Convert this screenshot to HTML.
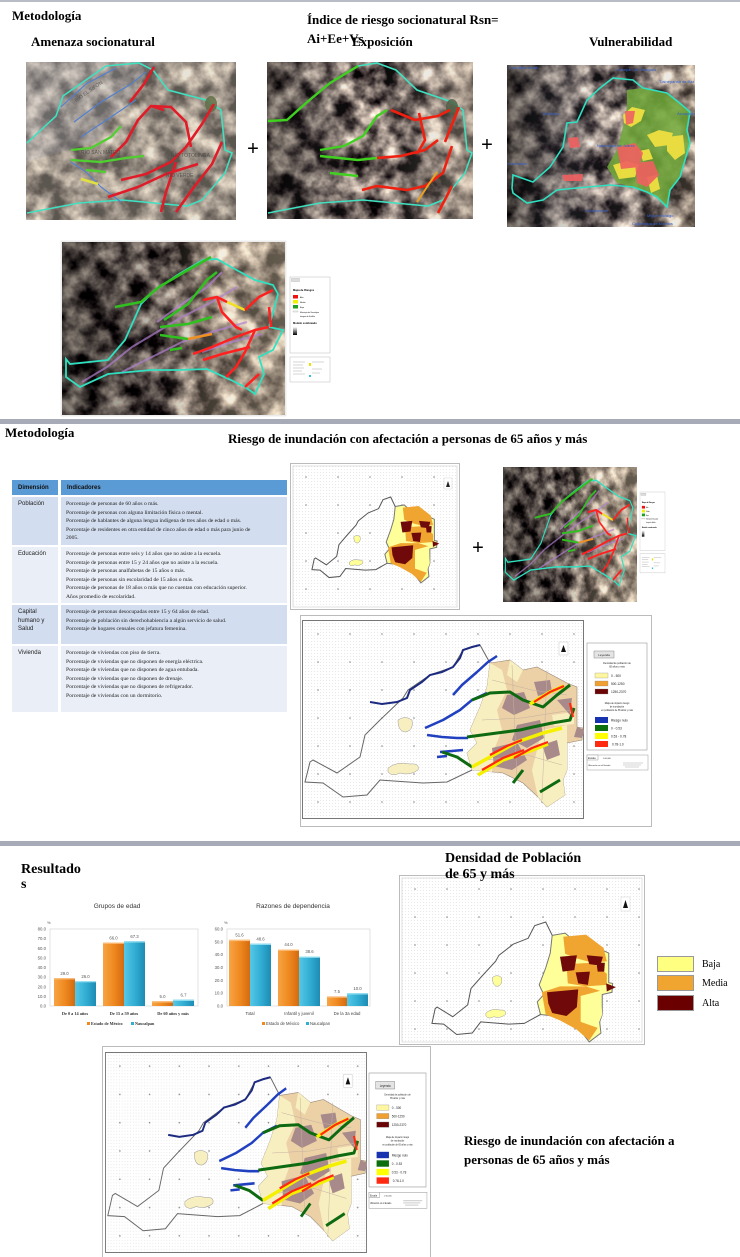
<!DOCTYPE html>
<html><head><meta charset="utf-8">
<style>
body{margin:0;background:#fff;}
#w{position:relative;width:740px;height:1257px;overflow:hidden;background:#fff;}
.c{position:absolute;box-sizing:border-box;white-space:nowrap;}
.h{background:#5b9bd5;font-family:"Liberation Sans",sans-serif;font-weight:bold;font-size:6px;color:#111;padding:5px 0 0 6px;}
.d{font-family:"Liberation Sans",sans-serif;font-size:6px;color:#222;padding:3px 0 0 6px;line-height:8.6px;}
.i{font-family:"Liberation Serif",serif;font-size:5.6px;color:#222;padding:3px 0 0 5px;line-height:8.6px;}
.dk{background:#d2ddef;}
.lt{background:#e9eef7;}
</style></head>
<body><div id="w">
<svg width="740" height="1257" viewBox="0 0 740 1257" xmlns="http://www.w3.org/2000/svg" style="position:absolute;left:0;top:0">
<defs>
 <filter id="sat" x="0" y="0" width="100%" height="100%" color-interpolation-filters="sRGB">
  <feTurbulence type="fractalNoise" baseFrequency="0.045" numOctaves="4" seed="7"/>
  <feColorMatrix type="matrix" values="2.3 0 0 0 -0.7  2.2 0 0 0 -0.7  2.0 0 0 0 -0.62  0 0 0 0 1"/>
 </filter>
 <pattern id="dots" width="32" height="28" patternUnits="userSpaceOnUse"><circle cx="16" cy="14" r="0.8" fill="#888"/></pattern>
 <pattern id="fine" width="3" height="3" patternUnits="userSpaceOnUse"><rect width="3" height="3" fill="#fff"/><rect width="1" height="1" fill="#e8e8e8"/></pattern>
 <linearGradient id="g2" x1="0" x2="1"><stop offset="0" stop-color="#000" stop-opacity=".45"/><stop offset=".5" stop-color="#808080" stop-opacity="0"/><stop offset="1" stop-color="#d8c8b0" stop-opacity=".45"/></linearGradient>
 <linearGradient id="g3" x1="0" x2="1"><stop offset="0" stop-color="#000" stop-opacity=".55"/><stop offset=".5" stop-color="#9098a8" stop-opacity=".1"/><stop offset="1" stop-color="#c0b090" stop-opacity=".3"/></linearGradient>
 <linearGradient id="g4" x1="0" x2="1"><stop offset="0" stop-color="#000" stop-opacity=".5"/><stop offset=".45" stop-color="#000" stop-opacity=".25"/><stop offset=".65" stop-color="#d8c8a8" stop-opacity=".3"/><stop offset="1" stop-color="#e0d0b0" stop-opacity=".45"/></linearGradient>
 <linearGradient id="ob" x1="0" x2="1"><stop offset="0" stop-color="#f7a445"/><stop offset=".5" stop-color="#f08a20"/><stop offset="1" stop-color="#d46a10"/></linearGradient>
 <linearGradient id="bb" x1="0" x2="1"><stop offset="0" stop-color="#55c8e6"/><stop offset=".5" stop-color="#33aed4"/><stop offset="1" stop-color="#1d8cb4"/></linearGradient>
 <linearGradient id="bw" x1="0" x2="0" y1="0" y2="1"><stop offset="0" stop-color="#fff"/><stop offset="1" stop-color="#000"/></linearGradient>

 <g id="sat4">
  <rect width="223" height="173" filter="url(#sat)"/>
  <rect width="223" height="173" fill="url(#g4)"/>
  <g fill="none" stroke="#b080d0" stroke-width="2" opacity=".7">
   <path d="M20,140 L45,125 L70,105 L95,90 L120,75 L150,60 L175,45"/>
   <path d="M60,130 L90,115 L120,100 L150,90 L185,80"/>
   <path d="M95,80 L120,62 L145,45 L160,30"/>
   <path d="M140,110 L170,100 L200,92"/>
  </g>
  <path d="M4,117 L8,122 L46,118 L63,98 L79,62 L93,48 L117,32 L141,18 L155,17 L169,25 L193,38 L211,43 L216,52 L207,85 L221,88 L211,108 L197,115 L202,132 L193,152 L183,145 L169,138 L145,127 L117,128 L89,128 L46,132 L18,145 L4,135 Z" fill="none" stroke="#30e0c0" stroke-width="1.8"/>
  <g fill="none" stroke="#30c020" stroke-width="2.5" stroke-linejoin="round">
   <path d="M53,65 L79,60 L97,45 L126,28 L149,15"/>
   <path d="M102,78 L126,62 L145,38 L155,30"/>
   <path d="M98,85 L126,82 L150,75"/>
   <path d="M98,93 L126,97"/>
   <path d="M108,108 L120,106"/>
  </g>
  <path d="M126,97 L150,92" stroke="#f09020" stroke-width="2.5" fill="none"/>
  <path d="M165,60 L183,68" stroke="#f0e020" stroke-width="2.5" fill="none"/>
  <g fill="none" stroke="#ff2020" stroke-width="2.5" stroke-linejoin="round">
   <path d="M141,58 L155,55 L165,60"/>
   <path d="M183,68 L197,55 L211,48"/>
   <path d="M131,112 L150,105 L174,95 L193,88 L207,85"/>
   <path d="M141,118 L160,112 L188,105"/>
   <path d="M164,135 L174,125 L183,110 L193,88"/>
   <path d="M183,145 L197,132"/>
   <path d="M155,55 L160,70 L174,85 L180,88"/>
   <path d="M207,65 L209,85"/>
  </g>
 </g>

 <g id="mleg">
  <rect x="0" y="0" width="40" height="76" fill="#fff" stroke="#bbb" stroke-width=".5"/>
  <rect x="1.5" y="1.5" width="8" height="3" fill="#ddd" stroke="#999" stroke-width=".3"/>
  <text x="3" y="14" font-family="Liberation Sans, sans-serif" font-size="2.6" font-weight="bold">Mapa de Riesgos</text>
  <rect x="3" y="18" width="5" height="3.5" fill="#f01010"/><rect x="3" y="23" width="5" height="3.5" fill="#f0f000"/><rect x="3" y="28" width="5" height="3.5" fill="#20a020"/>
  <text x="10" y="21" font-family="Liberation Sans, sans-serif" font-size="2">Alto</text>
  <text x="10" y="26" font-family="Liberation Sans, sans-serif" font-size="2">Medio</text>
  <text x="10" y="31" font-family="Liberation Sans, sans-serif" font-size="2">Bajo</text>
  <rect x="3" y="34" width="5" height="1" fill="#fff" stroke="#999" stroke-width=".3"/>
  <text x="10" y="36" font-family="Liberation Sans, sans-serif" font-size="1.8">Municipio de Naucalpan</text>
  <text x="10" y="40" font-family="Liberation Sans, sans-serif" font-size="1.8">Imagen de Satélite</text>
  <text x="3" y="47" font-family="Liberation Sans, sans-serif" font-size="2.6" font-weight="bold">Modelo sombreado</text>
  <rect x="3" y="50" width="4" height="8" fill="url(#bw)"/>
  <rect x="0" y="80" width="40" height="25" fill="#fff" stroke="#bbb" stroke-width=".5"/>
  <g stroke="#aaa" stroke-width=".6"><path d="M3,85 H15 M3,88 H13 M3,91 H14 M3,94 H12 M3,97 H15 M22,85 H34 M22,92 H32 M22,96 H30"/></g>
  <rect x="19" y="86" width="2" height="3" fill="#f0e000"/><rect x="19" y="98" width="2" height="2" fill="#30c0e0"/>
 </g>

 <g id="riskmap">
  <path d="M188,43 L208,40 L221,50 L235,47 L265,63 L275,67 L275,107 L281,108 L280,120 L265,123 L265,150 L261,160 L263,175 L245,187 L236,177 L221,163 L201,153 L170,150 L165,133 L175,123 L168,110 L178,87 L185,67 Z" fill="#ecd0a6" stroke="#9a8a7a" stroke-width=".6"/>
  <g fill="#f8efc0">
   <path d="M185,67 L178,87 L168,110 L175,123 L165,133 L170,150 L190,152 L192,130 L200,110 L195,90 L205,70 L200,50 L188,43 Z"/>
   <path d="M240,110 L265,105 L265,150 L261,160 L263,175 L245,187 L236,177 L230,150 Z"/>
   <path d="M208,40 L221,50 L215,62 L205,55 Z"/>
   <path d="M250,95 L272,92 L272,104 L252,106 Z"/>
  </g>
  <g fill="#a88a8a">
   <path d="M205,75 L222,72 L228,88 L212,95 L200,88 Z"/>
   <path d="M232,62 L248,60 L250,72 L236,76 Z"/>
   <path d="M215,105 L238,100 L242,118 L225,128 L210,120 Z"/>
   <path d="M190,128 L215,122 L225,140 L210,150 L192,146 Z"/>
   <path d="M240,125 L255,120 L258,135 L245,140 Z"/>
   <path d="M255,80 L270,78 L268,95 Z"/>
   <path d="M275,107 L283,110 L280,118 L272,117 Z"/>
  </g>
  <g fill="none" stroke="#c2b2a0" stroke-width=".5">
   <path d="M190,60 L230,70 L265,75 M180,100 L220,98 L270,90 M185,140 L225,135 L260,145 M210,45 L215,160 M245,50 L240,180"/>
  </g>
  <path d="M188,43 L178,25 L161,30 L151,47 L128,55 L106,70 L101,78 L78,100 L63,115 L58,137 L35,153 L11,140 L8,142 L3,162 L21,163 L41,177 L65,175 L78,160 L121,163 L145,162 L170,150" fill="none" stroke="#666" stroke-width="1"/>
  <path d="M96,100 Q103,95 110,100 Q112,110 104,112 Q96,112 96,100 Z" fill="#f8efc0" stroke="#999" stroke-width=".5"/>
  <path d="M86,148 Q95,141 108,144 Q118,143 116,150 Q108,156 98,153 Q90,157 86,152 Z" fill="#f8efc0" stroke="#999" stroke-width=".5"/>
  <path d="M68,82 L80,84 L95,82 L105,78 L108,70 L120,62 L128,55 L140,52 L151,47 L158,38 L161,30 L170,27 L178,25" fill="none" stroke="#1c2a80" stroke-width="2"/>
  <g fill="none" stroke="#2040c0" stroke-width="2.5" stroke-linejoin="round">
   <path d="M151,75 L160,65 L175,52 L186,42 L195,36"/>
   <path d="M123,108 L141,100 L158,90 L170,80 L185,73"/>
   <path d="M125,115 L140,117 L155,118 L166,118"/>
   <path d="M138,132 L150,131 L161,130"/>
   <path d="M135,137 L145,136"/>
  </g>
  <g fill="none" stroke="#0e6a10" stroke-width="3" stroke-linejoin="round">
   <path d="M170,80 L188,73 L208,72 L221,80 L241,87 L255,75 L268,65"/>
   <path d="M165,117 L195,113 L218,110 L231,107 L250,103 L268,100 L272,88"/>
   <path d="M140,132 L155,137 L170,147"/>
   <path d="M211,163 L221,150"/>
   <path d="M238,172 L258,160"/>
  </g>
  <g fill="none" stroke="#f4f000" stroke-width="3.5" stroke-linejoin="round">
   <path d="M170,147 L188,137 L215,122 L241,113 L260,108"/>
   <path d="M176,155 L201,140 L228,131 L246,124"/>
   <path d="M228,84 L248,72 L262,66"/>
  </g>
  <g fill="none" stroke="#ff2810" stroke-width="2.2" stroke-linejoin="round">
   <path d="M180,150 L201,138 L222,130"/>
   <path d="M212,138 L230,128 L246,122"/>
   <path d="M232,82 L248,72 L262,66"/>
   <path d="M268,83 L271,97"/>
   <path d="M188,135 L205,126 L220,120"/>
  </g>
 </g>

 <g id="densmap">
  <path d="M188,43 L208,40 L221,50 L235,47 L265,63 L275,67 L275,107 L281,108 L280,120 L265,123 L265,150 L261,160 L263,175 L245,187 L236,177 L221,163 L201,153 L170,150 L165,133 L175,123 L168,110 L178,87 L185,67 Z" fill="#ffff99" stroke="#777" stroke-width="1" vector-effect="non-scaling-stroke"/>
  <g fill="#f0a530">
   <path d="M205,45 L240,42 L267,60 L272,78 L250,80 L225,74 L208,68 Z"/>
   <path d="M210,82 L250,80 L272,95 L272,110 L240,112 L212,108 Z"/>
   <path d="M172,120 L200,112 L240,112 L262,118 L232,125 L232,160 L258,168 L245,185 L225,170 L200,158 L178,150 Z"/>
  </g>
  <path d="M232,125 L262,118 L265,150 L258,165 L232,160 Z" fill="#ffff99"/>
  <g fill="#700a0a">
   <path d="M200,72 L226,70 L222,90 L204,92 Z"/>
   <path d="M241,70 L266,72 L262,84 L245,82 Z"/>
   <path d="M224,93 L246,92 L243,110 L228,108 Z"/>
   <path d="M180,120 L228,116 L226,140 L210,152 L188,148 L182,135 Z"/>
   <path d="M256,80 L269,80 L268,92 L258,92 Z"/>
   <path d="M271,108 L286,113 L272,119 Z"/>
  </g>
  <path d="M188,43 L178,25 L161,30 L151,47 L128,55 L106,70 L101,78 L78,100 L63,115 L58,137 L35,153 L11,140 L8,142 L3,162 L21,163 L41,177 L65,175 L78,160 L121,163 L145,162 L170,150" fill="none" stroke="#555" stroke-width="1" vector-effect="non-scaling-stroke"/>
  <path d="M96,100 Q103,95 110,100 Q112,110 104,112 Q96,112 96,100 Z" fill="#ffff99" stroke="#999" stroke-width=".5" vector-effect="non-scaling-stroke"/>
  <path d="M86,148 Q95,141 108,144 Q118,143 116,150 Q108,156 98,153 Q90,157 86,152 Z" fill="#ffff99" stroke="#999" stroke-width=".5" vector-effect="non-scaling-stroke"/>
 </g>

 <g id="rleg" font-family="Liberation Sans, sans-serif" fill="#222">
  <rect x="0" y="0" width="60" height="107" fill="#fff" stroke="#999" stroke-width=".6"/>
  <rect x="7" y="8" width="20" height="7" fill="#e4e4e4" stroke="#888" stroke-width=".5"/>
  <text x="17" y="13" font-size="3" text-anchor="middle">Leyenda</text>
  <text x="30" y="21" font-size="2.4" text-anchor="middle">Densidad de población de</text>
  <text x="30" y="24.5" font-size="2.4" text-anchor="middle">65 años y más</text>
  <rect x="8" y="30" width="13" height="5" fill="#fff6a0" stroke="#888" stroke-width=".3"/>
  <rect x="8" y="38" width="13" height="5" fill="#f0a030" stroke="#888" stroke-width=".3"/>
  <rect x="8" y="46" width="13" height="5" fill="#6b0505" stroke="#888" stroke-width=".3"/>
  <text x="24" y="34" font-size="3.2">0 - 500</text>
  <text x="24" y="42" font-size="3.2">500-1250</text>
  <text x="24" y="50" font-size="3.2">1250-2370</text>
  <text x="30" y="61" font-size="2.3" text-anchor="middle">Mapa de impacto riesgo</text>
  <text x="30" y="64.5" font-size="2.3" text-anchor="middle">de inundación</text>
  <text x="30" y="68" font-size="2.3" text-anchor="middle">en población de 65 años y más</text>
  <rect x="8" y="74" width="13" height="6" fill="#1733b0"/>
  <rect x="8" y="82" width="13" height="6" fill="#0d6e0d"/>
  <rect x="8" y="90" width="13" height="6" fill="#ffff00"/>
  <rect x="8" y="98" width="13" height="6" fill="#ff2a10"/>
  <text x="24" y="78.5" font-size="3.2">Riesgo nulo</text>
  <text x="24" y="86.5" font-size="3.2">0 - 0.53</text>
  <text x="24" y="94.5" font-size="3.2">0.53 - 0.78</text>
  <text x="25" y="102.5" font-size="3.2">0.78-1.0</text>
  <rect x="0" y="112" width="61" height="15" fill="#fff" stroke="#999" stroke-width=".5"/>
  <rect x="0" y="112" width="11" height="5" fill="#fff" stroke="#999" stroke-width=".5"/>
  <text x="1" y="116" font-size="2.5">Escala</text>
  <text x="16" y="116" font-size="2">1:60,000</text>
  <text x="1" y="123" font-size="2.2">Ubicación en el Estado</text>
  <path d="M36,120 H56 M36,122 H54 M38,124 H52" stroke="#aaa" stroke-width=".5"/>
 </g>
</defs>

<rect x="0" y="0" width="740" height="2" fill="#b8bcc6"/>
<rect x="0" y="419" width="740" height="5" fill="#a7abb7"/>
<rect x="0" y="841" width="740" height="5" fill="#a7abb7"/>

<g font-family="Liberation Serif, serif" font-weight="bold" fill="#000">
 <text x="12" y="20" font-size="13">Metodología</text>
 <text x="307" y="24" font-size="13">Índice de riesgo socionatural Rsn=</text>
 <text x="307" y="43" font-size="13">Ai+Ee+Vs</text>
 <text x="352" y="46" font-size="13">Exposición</text>
 <text x="31" y="46" font-size="13">Amenaza socionatural</text>
 <text x="589" y="46" font-size="13">Vulnerabilidad</text>
</g>
<text x="253" y="155" font-family="Liberation Sans, sans-serif" font-size="20" text-anchor="middle">+</text>
<text x="487" y="151" font-family="Liberation Sans, sans-serif" font-size="20" text-anchor="middle">+</text>

<svg x="26" y="62" width="210" height="158" viewBox="0 0 210 158">
 <rect width="210" height="158" filter="url(#sat)"/>
 <rect width="210" height="158" fill="#c8c0b0" opacity=".45"/>
 <path d="M0,0 L130,0 L70,80 L0,100 Z" fill="#9aa0b0" opacity=".25"/>
 <path d="M1,81 L30,54 L37,34 L80,4 L113,1 L127,8 L142,28 L180,38 L195,48 L199,88 L206,91 L199,111 L176,138 L161,144 L128,141 L96,138 L53,141 L1,151" fill="none" stroke="#40e0c0" stroke-width="1.6"/>
 <g fill="none" stroke="#5080d0" stroke-width="1.1">
  <path d="M35,45 L60,22 L90,6"/><path d="M48,60 L75,40 L105,22 L120,10"/><path d="M55,75 L85,55 L110,38"/><path d="M45,100 L60,110 L75,125 L95,140"/>
 </g>
 <ellipse cx="185" cy="42" rx="6" ry="8" fill="#5a6a40" opacity=".8"/>
 <g fill="none" stroke="#e01c28" stroke-width="2.6" stroke-linejoin="round">
  <path d="M188,42 L176,62 L160,85 L145,100 L120,112 L95,118"/>
  <path d="M138,48 L125,44 L112,58 L100,80 L85,95"/>
  <path d="M196,80 L186,102 L168,125 L150,150"/>
  <path d="M172,102 L140,112 L112,125 L82,135"/>
  <path d="M128,5 L118,22 L104,40"/>
  <path d="M150,100 L140,130 L135,150"/>
  <path d="M125,44 L145,45 L160,60 L165,85"/>
 </g>
 <g fill="none" stroke="#50d030" stroke-width="2.2">
  <path d="M45,88 L65,86 L85,75 L95,64"/><path d="M45,98 L75,100 L100,96 L118,94"/><path d="M60,108 L80,110"/>
 </g>
 <path d="M55,117 L72,122" stroke="#e0e040" stroke-width="2.5" fill="none"/>
 <g font-family="Liberation Sans, sans-serif" font-size="5" fill="#444" opacity=".8">
  <text x="50" y="40" transform="rotate(-35 50 40)">RÍO EL SIFÓN</text>
  <text x="55" y="92">RÍO SAN MATEO</text>
  <text x="145" y="95">RÍO TOTOLINGA</text>
  <text x="140" y="115">RÍO VERDE</text>
 </g>
</svg>

<svg x="267" y="62" width="206" height="157" viewBox="0 0 206 157">
 <rect width="206" height="157" filter="url(#sat)"/>
 <rect width="206" height="157" fill="url(#g2)"/>
 <path d="M1,59 L20,58 L39,41 L63,21 L91,4 L110,1 L129,8 L150,28 L185,40 L196,48 L200,88 L205,91 L198,111 L176,138 L161,144 L128,141 L96,138 L53,141 L1,151" fill="none" stroke="#40e0c0" stroke-width="1.6"/>
 <ellipse cx="185" cy="45" rx="6" ry="8" fill="#4a5a40" opacity=".8"/>
 <g fill="none" stroke="#40d020" stroke-width="2.4" stroke-linejoin="round">
  <path d="M1,59 L20,58 L39,41 L63,21 L91,4"/>
  <path d="M53,88 L77,84 L96,74 L110,54 L120,48"/>
  <path d="M53,94 L91,98 L110,96"/>
  <path d="M63,111 L91,114"/>
 </g>
 <g fill="none" stroke="#f02010" stroke-width="2.6" stroke-linejoin="round">
  <path d="M124,48 L148,58 L171,54 L183,48"/>
  <path d="M171,78 L158,88 L134,94 L110,96"/>
  <path d="M185,84 L176,111 L158,124 L140,128 L110,124 L95,128"/>
  <path d="M185,124 L171,151"/>
  <path d="M152,51 L158,78 L150,92"/>
  <path d="M192,45 L186,60 L178,80"/>
 </g>
 <path d="M150,140 L160,125 L170,110" stroke="#e8a020" stroke-width="2" fill="none"/>
</svg>

<svg x="507" y="65" width="188" height="162" viewBox="0 0 188 162">
 <rect width="188" height="162" filter="url(#sat)"/>
 <rect width="188" height="162" fill="url(#g3)"/>
 <path d="M120,25 L136,23 L160,28 L175,40 L183,47 L180,65 L183,78 L178,95 L173,112 L163,125 L160,142 L153,135 L140,127 L126,122 L110,118 L100,102 L110,85 L116,62 L120,42 Z" fill="#70a838" opacity=".85"/>
 <g fill="#e8dc40">
  <path d="M116,50 L125,42 L138,45 L134,56 L124,62 L117,58 Z"/>
  <path d="M140,70 L152,65 L166,68 L162,80 L148,82 Z"/>
  <path d="M160,72 L176,70 L178,88 L168,95 L160,86 Z"/>
  <path d="M106,100 L120,96 L132,100 L128,112 L112,114 Z"/>
  <path d="M140,112 L150,110 L153,124 L144,128 Z"/>
  <path d="M132,86 L142,84 L146,94 L136,96 Z"/>
 </g>
 <g fill="#f06060" opacity=".9">
  <path d="M110,82 L128,78 L136,88 L132,102 L114,104 Z"/>
  <path d="M128,98 L146,96 L152,110 L140,122 L130,118 Z"/>
  <path d="M61,73 L71,72 L73,82 L63,83 Z"/>
  <path d="M55,110 L76,109 L75,116 L57,116 Z"/>
  <path d="M118,46 L128,46 L126,58 L119,60 Z"/>
 </g>
 <path d="M5,123 L6,110 L26,117 L43,102 L56,82 L60,58 L70,57 L80,35 L93,23 L106,13 L126,15 L136,23 L160,28 L175,40 L183,47 L180,65 L183,78 L178,95 L173,112 L163,125 L160,142 L150,132 L140,127 L126,122 L103,120 L70,123 L50,125 L36,135 L20,138 L6,128 Z" fill="none" stroke="#30e0c0" stroke-width="1.6"/>
 <g font-family="Liberation Sans, sans-serif" font-size="4" fill="#3060d0">
  <text x="2" y="4">Cuautitlán Izcalli</text><text x="110" y="6">Atizapán de Zaragoza</text><text x="152" y="18">Tlalnepantla de Baz</text><text x="35" y="50">Jilotzingo</text><text x="170" y="50">Azcapotzalco</text><text x="90" y="82">Naucalpan de Juárez</text><text x="0" y="100">Xonacatlán</text><text x="78" y="147">Huixquilucan</text><text x="140" y="152">Miguel Hidalgo</text><text x="125" y="160">Cuajimalpa de Morelos</text>
 </g>
</svg>

<rect x="61" y="241" width="225" height="175" fill="#f0f0f0" stroke="#ddd" stroke-width=".5"/>
<svg x="62" y="242" width="223" height="173" viewBox="0 0 223 173"><use href="#sat4"/></svg>
<g transform="translate(290,277)"><use href="#mleg"/></g>

<g font-family="Liberation Serif, serif" font-weight="bold" fill="#000">
 <text x="5" y="437" font-size="13">Metodología</text>
 <text x="228" y="443" font-size="13">Riesgo de inundación con afectación a personas de 65 años y más</text>
</g>

<svg x="290" y="463" width="170" height="147" viewBox="0 0 170 147">
 <rect x=".5" y=".5" width="169" height="146" fill="#fff" stroke="#bbb"/>
 <rect x="3" y="3" width="164" height="141" fill="url(#fine)" stroke="#ccc" stroke-width=".6"/>
 <rect x="3" y="3" width="164" height="141" fill="url(#dots)"/>
 <g transform="translate(20.6,20.75) scale(0.45,0.53)"><use href="#densmap"/></g>
 <rect x="154" y="15" width="8" height="11" fill="#fff" stroke="#ccc" stroke-width=".4"/>
 <path d="M158,18 L160,24 L156,24 Z" fill="#222"/>
</svg>
<text x="478" y="554" font-family="Liberation Sans, sans-serif" font-size="20" text-anchor="middle">+</text>

<svg x="503" y="467" width="134" height="135" viewBox="0 0 223 173" preserveAspectRatio="none"><use href="#sat4"/></svg>
<g transform="translate(640,492) scale(0.625,0.77)"><use href="#mleg"/></g>

<rect x="300.5" y="615.5" width="351" height="211" fill="#fff" stroke="#bbb"/>
<svg x="302" y="620" width="282" height="199" viewBox="0 0 282 199">
 <rect x=".5" y=".5" width="281" height="198" fill="url(#fine)" stroke="#777"/>
 <rect width="282" height="199" fill="url(#dots)"/>
 <use href="#riskmap"/>
 <rect x="257" y="22" width="9" height="13" fill="#fff" stroke="#bbb" stroke-width=".4"/>
 <path d="M261.5,25 L264,32 L259,32 Z" fill="#111"/>
</svg>
<g transform="translate(587,643)"><use href="#rleg"/></g>

<g font-family="Liberation Serif, serif" font-weight="bold" fill="#000">
 <text x="21" y="873" font-size="14">Resultado</text>
 <text x="21" y="888" font-size="14">s</text>
</g>

<g font-family="Liberation Sans, sans-serif">
 <text x="117" y="908" font-size="6.5" text-anchor="middle" fill="#333">Grupos de edad</text>
 <text x="47" y="924" font-size="4" fill="#555">%</text>
 <rect x="50" y="929" width="148" height="77" fill="#fff" stroke="#d0d0d0" stroke-width=".6"/>
 <g font-size="4.3" fill="#555" text-anchor="end">
  <text x="46" y="1007.5">0.0</text><text x="46" y="998">10.0</text><text x="46" y="988.3">20.0</text><text x="46" y="978.7">30.0</text><text x="46" y="969">40.0</text><text x="46" y="959.4">50.0</text><text x="46" y="949.8">60.0</text><text x="46" y="940.2">70.0</text><text x="46" y="930.6">80.0</text>
 </g>
 <rect x="54" y="978.1" width="21" height="27.9" fill="url(#ob)"/>
 <rect x="75" y="981" width="21" height="25" fill="url(#bb)"/>
 <rect x="103" y="942.5" width="21" height="63.5" fill="url(#ob)"/>
 <rect x="124" y="941.2" width="21" height="64.8" fill="url(#bb)"/>
 <rect x="152" y="1001.2" width="21" height="4.8" fill="url(#ob)"/>
 <rect x="173" y="999.6" width="21" height="6.4" fill="url(#bb)"/>
 <g fill="#fbc080"><rect x="54" y="978.1" width="21" height="1.3"/><rect x="103" y="942.5" width="21" height="1.3"/><rect x="152" y="1001.2" width="21" height="1.3"/></g>
 <g fill="#9ae0f2"><rect x="75" y="981" width="21" height="1.3"/><rect x="124" y="941.2" width="21" height="1.3"/><rect x="173" y="999.6" width="21" height="1.3"/></g>
 <g font-size="4.3" fill="#555" text-anchor="middle">
  <text x="64.5" y="975">29.0</text><text x="85.5" y="978">26.0</text><text x="113.5" y="939.5">66.0</text><text x="134.5" y="938">67.3</text><text x="162.5" y="998">5.0</text><text x="183.5" y="996.5">6.7</text>
 </g>
 <g font-size="4.3" fill="#333" text-anchor="middle" font-family="Liberation Serif, serif" font-weight="bold">
  <text x="75" y="1015">De 0 a 14 años</text><text x="124" y="1015">De 15 a 59 años</text><text x="173" y="1015">De 60 años y más</text>
 </g>
 <rect x="87" y="1022" width="3" height="3" fill="#f08a20"/>
 <text x="91" y="1025" font-size="4.2" fill="#333" font-family="Liberation Serif, serif" font-weight="bold">Estado de México</text>
 <rect x="131" y="1022" width="3" height="3" fill="#33aed4"/>
 <text x="135" y="1025" font-size="4.2" fill="#333" font-family="Liberation Serif, serif" font-weight="bold">Naucalpan</text>
</g>

<g font-family="Liberation Sans, sans-serif">
 <text x="293" y="908" font-size="6.5" text-anchor="middle" fill="#333">Razones de dependencia</text>
 <text x="224" y="924" font-size="4" fill="#555">%</text>
 <rect x="227" y="929" width="143" height="77" fill="#fff" stroke="#d0d0d0" stroke-width=".6"/>
 <g font-size="4.3" fill="#555" text-anchor="end">
  <text x="223" y="1007.5">0.0</text><text x="223" y="994.7">10.0</text><text x="223" y="981.8">20.0</text><text x="223" y="969">30.0</text><text x="223" y="956.2">40.0</text><text x="223" y="943.3">50.0</text><text x="223" y="930.5">60.0</text>
 </g>
 <rect x="229" y="939.8" width="21" height="66.2" fill="url(#ob)"/>
 <rect x="250" y="943.6" width="21" height="62.4" fill="url(#bb)"/>
 <rect x="278" y="949.5" width="21" height="56.5" fill="url(#ob)"/>
 <rect x="299" y="956.5" width="21" height="49.5" fill="url(#bb)"/>
 <rect x="327" y="996.4" width="20" height="9.6" fill="url(#ob)"/>
 <rect x="347" y="993.2" width="21" height="12.8" fill="url(#bb)"/>
 <g fill="#fbc080"><rect x="229" y="939.8" width="21" height="1.3"/><rect x="278" y="949.5" width="21" height="1.3"/><rect x="327" y="996.4" width="20" height="1.3"/></g>
 <g fill="#9ae0f2"><rect x="250" y="943.6" width="21" height="1.3"/><rect x="299" y="956.5" width="21" height="1.3"/><rect x="347" y="993.2" width="21" height="1.3"/></g>
 <g font-size="4.3" fill="#555" text-anchor="middle">
  <text x="239.5" y="936.5">51.6</text><text x="260.5" y="940.5">48.6</text><text x="288.5" y="946">44.0</text><text x="309.5" y="953">38.6</text><text x="337" y="993">7.5</text><text x="357.5" y="990">10.0</text>
 </g>
 <g font-size="4.3" fill="#444" text-anchor="middle">
  <text x="250" y="1015">Total</text><text x="299" y="1015">Infantil y juvenil</text><text x="347" y="1015">De la 3a edad</text>
 </g>
 <rect x="262" y="1022" width="3" height="3" fill="#f08a20"/>
 <text x="266" y="1025" font-size="4.2" fill="#444">Estado de México</text>
 <rect x="306" y="1022" width="3" height="3" fill="#33aed4"/>
 <text x="310" y="1025" font-size="4.2" fill="#444">Naucalpan</text>
</g>

<svg x="399" y="875" width="246" height="170" viewBox="0 0 246 170">
 <rect x=".5" y=".5" width="245" height="169" fill="#fff" stroke="#bbb"/>
 <rect x="3" y="3" width="240" height="164" fill="url(#fine)" stroke="#ccc" stroke-width=".6"/>
 <rect x="3" y="3" width="240" height="164" fill="url(#dots)"/>
 <g transform="translate(31,28.5) scale(0.65,0.74)"><use href="#densmap"/></g>
 <rect x="222" y="22" width="9" height="14" fill="#fff" stroke="#ccc" stroke-width=".4"/>
 <path d="M226.5,25 L229,33 L224,33 Z" fill="#111"/>
</svg>
<g font-family="Liberation Serif, serif" font-weight="bold" fill="#000">
 <text x="445" y="862" font-size="14">Densidad de Población</text>
 <text x="445" y="878" font-size="14">de 65 y más</text>
</g>
<rect x="657.5" y="956.5" width="36" height="15" fill="#ffff80" stroke="#999"/>
<rect x="657.5" y="975.5" width="36" height="15" fill="#f0a530" stroke="#999"/>
<rect x="657.5" y="995.5" width="36" height="15" fill="#6b0000" stroke="#999"/>
<g font-family="Liberation Serif, serif" font-size="10" fill="#000">
 <text x="702" y="967">Baja</text><text x="702" y="986">Media</text><text x="702" y="1006">Alta</text>
</g>

<rect x="102.5" y="1046.5" width="328" height="215" fill="#fff" stroke="#bbb"/>
<svg x="105" y="1052" width="262" height="201" viewBox="0 0 282 199" preserveAspectRatio="none">
 <rect x=".5" y=".5" width="281" height="198" fill="url(#fine)" stroke="#777"/>
 <rect width="282" height="199" fill="url(#dots)"/>
 <use href="#riskmap"/>
 <rect x="257" y="22" width="9" height="13" fill="#fff" stroke="#bbb" stroke-width=".4"/>
 <path d="M261.5,25 L264,32 L259,32 Z" fill="#111"/>
</svg>
<g transform="translate(369,1073) scale(0.95,1.065)"><use href="#rleg"/></g>
<g font-family="Liberation Serif, serif" font-weight="bold" fill="#000">
 <text x="464" y="1145" font-size="13">Riesgo de inundación con afectación a</text>
 <text x="464" y="1164" font-size="13">personas de 65 años y más</text>
</g>
</svg>

<div class="c h" style="left:12px;top:480px;width:46px;height:15px;">Dimensión</div>
<div class="c h" style="left:61px;top:480px;width:226px;height:15px;">Indicadores</div>

<div class="c d dk" style="left:12px;top:497px;width:46px;height:48px;">Población</div>
<div class="c i dk" style="left:61px;top:497px;width:226px;height:48px;">Porcentaje de personas de 60 años o más.<br>Porcentaje de personas con alguna limitación física o mental.<br>Porcentaje de hablantes de alguna lengua indígena de tres años de edad o más.<br>Porcentaje de residentes en otra entidad de cinco años de edad o más para junio de<br>2005.</div>

<div class="c d lt" style="left:12px;top:547px;width:46px;height:56px;">Educación</div>
<div class="c i lt" style="left:61px;top:547px;width:226px;height:56px;">Porcentaje de personas entre seis y 14 años que no asiste a la escuela.<br>Porcentaje de personas entre 15 y 24 años que no asiste a la escuela.<br>Porcentaje de personas analfabetas de 15 años o más.<br>Porcentaje de personas sin escolaridad de 15 años o más.<br>Porcentaje de personas de 18 años o más que no cuentan con educación superior.<br>Años promedio de escolaridad.</div>

<div class="c d dk" style="left:12px;top:605px;width:46px;height:39px;">Capital<br>humano y<br>Salud</div>
<div class="c i dk" style="left:61px;top:605px;width:226px;height:39px;">Porcentaje de personas desocupadas entre 15 y 64 años de edad.<br>Porcentaje de población sin derechohabiencia a algún servicio de salud.<br>Porcentaje de hogares censales con jefatura femenina.</div>

<div class="c d lt" style="left:12px;top:646px;width:46px;height:66px;">Vivienda</div>
<div class="c i lt" style="left:61px;top:646px;width:226px;height:66px;">Porcentaje de viviendas con piso de tierra.<br>Porcentaje de viviendas que no disponen de energía eléctrica.<br>Porcentaje de viviendas que no disponen de agua entubada.<br>Porcentaje de viviendas que no disponen de drenaje.<br>Porcentaje de viviendas que no disponen de refrigerador.<br>Porcentaje de viviendas con un dormitorio.</div>

</div></body></html>
